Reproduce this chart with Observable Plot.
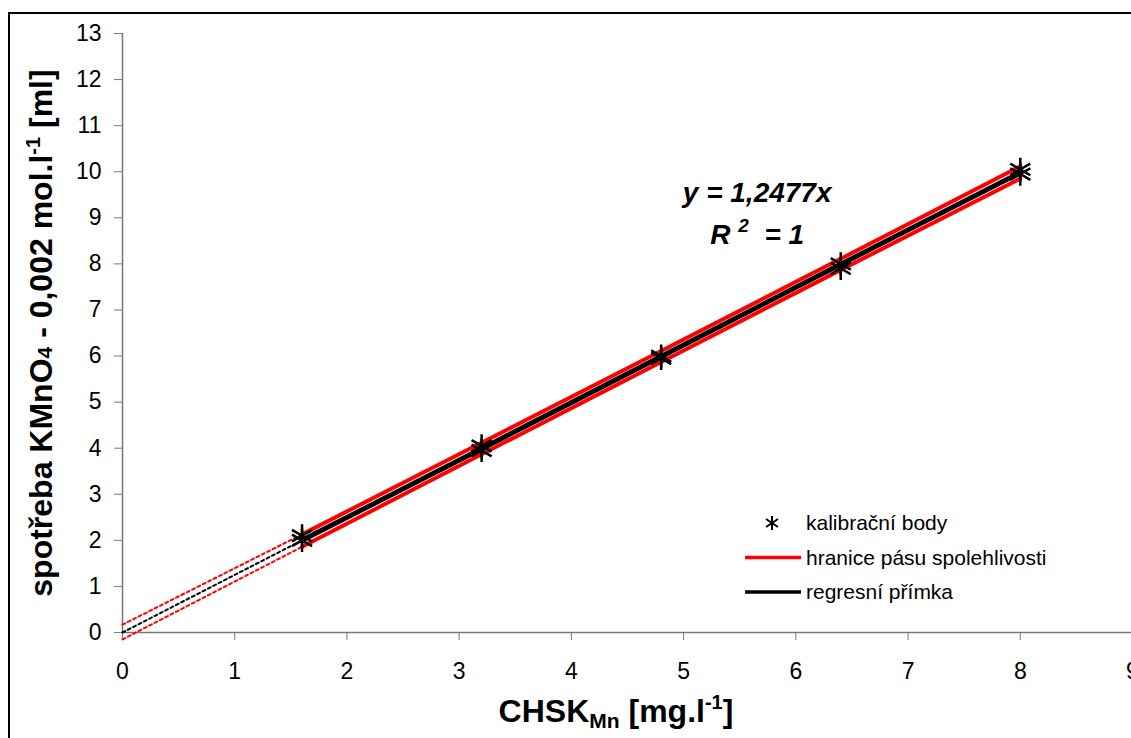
<!DOCTYPE html>
<html><head><meta charset="utf-8">
<script src="https://cdn.jsdelivr.net/npm/d3@7"></script>
<script src="https://cdn.jsdelivr.net/npm/@observablehq/plot@0.6"></script>
<style>
html,body{margin:0;padding:0;background:#fff;overflow:hidden;}
#wrap{position:relative;width:1131px;height:738px;}
#frame{position:absolute;left:8px;top:12px;width:1200px;height:800px;border-left:2px solid #000;border-top:2px solid #000;}
#chart{position:absolute;left:0;top:0;}
</style></head>
<body><div id="wrap"><div id="frame"></div><div id="chart"></div></div>
<script>
// calibration points (CHSK_Mn [mg/l], consumption [ml])
const pointX = [1.6, 1.6, 3.2, 3.2, 4.8, 4.8, 6.4, 6.4, 8.0, 8.0];
const pointY = [2.1, 2.0, 4.05, 3.95, 6.0, 5.95, 8.0, 7.9, 10.05, 9.95];
// regression line and confidence band
const lineX     = [0, 1.6, 3.2, 4.8, 6.4, 8.0];
const regY      = [0, 2.0, 3.99, 5.99, 7.99, 9.98];
const upperY    = [0.17, 2.13, 4.12, 6.11, 8.11, 10.12];
const lowerY    = [-0.15, 1.86, 3.87, 5.87, 7.87, 9.85];
const xTicks = [0,1,2,3,4,5,6,7,8,9];
const yTicks = [0,1,2,3,4,5,6,7,8,9,10,11,12,13];
const eqX = 5.66;
const eqY = [9.33, 8.42];

const pts = pointX.map((x,i)=>({x, y: pointY[i]}));
const mk = arr => lineX.map((x,i)=>({x, y: arr[i]}));
const reg = mk(regY), up = mk(upperY), lo = mk(lowerY);
const dashed = a => a.slice(0,2), solid = a => a.slice(1);

const font = "'Liberation Sans', Arial, sans-serif";
const svg = Plot.plot({
  width: 1131, height: 738,
  marginLeft: 122, marginRight: -1, marginTop: 33, marginBottom: 106,
  style: {fontFamily: font, fontSize: "23px", color: "#000", background: "transparent", overflow: "visible"},
  x: {domain: [0, 9], ticks: xTicks, label: null},
  y: {domain: [0, 13], ticks: yTicks, label: null},
  marks: [
    Plot.axisX({ticks: xTicks, tickSize: 8, tickPadding: 22, stroke: "#777", label: null, fill: "#000", fontSize: 23}),
    Plot.axisY({ticks: yTicks, tickSize: 8, tickPadding: 13, stroke: "#777", label: null, fill: "#000", fontSize: 23}),
    Plot.ruleX([0], {stroke: "#777", strokeWidth: 1.5}),
    Plot.ruleY([0], {stroke: "#777", strokeWidth: 1.5}),
    Plot.line(dashed(up), {x:"x", y:"y", stroke:"#ff0000", strokeWidth:2, strokeDasharray:"3,3"}),
    Plot.line(dashed(lo), {x:"x", y:"y", stroke:"#ff0000", strokeWidth:2, strokeDasharray:"3,3"}),
    Plot.line(dashed(reg), {x:"x", y:"y", stroke:"#000", strokeWidth:2, strokeDasharray:"3,3"}),
    Plot.line(solid(up), {x:"x", y:"y", stroke:"#ff0000", strokeWidth:4}),
    Plot.line(solid(lo), {x:"x", y:"y", stroke:"#ff0000", strokeWidth:4}),
    Plot.line(solid(reg), {x:"x", y:"y", stroke:"#000", strokeWidth:5}),
    Plot.dot(pts, {x:"x", y:"y", symbol:"asterisk", r:11, stroke:"#000", strokeWidth:2.5})
  ]
});
document.getElementById("chart").appendChild(svg);

const s = d3.select(svg);
// enlarge axis tick labels (all text present so far belongs to the axes)
s.selectAll("g").filter(function(){ return this.getAttribute("font-size"); }).attr("font-size", 23);
s.selectAll("text").attr("font-size", 23).style("font-size", "23px");

const xs = svg.scale("x"), ys = svg.scale("y");
// equation annotation
const e1 = s.append("text").attr("x", xs.apply(eqX)).attr("y", ys.apply(eqY[0]))
  .attr("text-anchor", "middle").style("font-family", font).style("font-weight", "bold")
  .style("font-style", "italic").style("font-size", "28px").attr("fill", "#000").text("y = 1,2477x");
const e2 = s.append("text").attr("x", xs.apply(eqX)).attr("y", ys.apply(eqY[1]))
  .attr("text-anchor", "middle").style("font-family", font).style("font-weight", "bold")
  .style("font-style", "italic").style("font-size", "28px").attr("fill", "#000");
e2.append("tspan").text("R ");
e2.append("tspan").text("2").style("font-size", "19px").attr("dy", "-12");
e2.append("tspan").text("  = 1").attr("dy", "12");

// y axis title
const yt = s.append("text")
  .attr("transform", "translate(52,333) rotate(-90)")
  .attr("text-anchor", "middle")
  .style("font-family", font).style("font-weight", "bold").style("font-size", "32px").attr("fill", "#000");
yt.append("tspan").text("spotřeba KMnO");
yt.append("tspan").text("4").style("font-size", "21px");
yt.append("tspan").text(" - 0,002 mol.l");
yt.append("tspan").text("-1").style("font-size", "20px").attr("dy", "-12");
yt.append("tspan").text(" [ml]").attr("dy", "12");
// x axis title
const xt = s.append("text")
  .attr("x", 616).attr("y", 722)
  .attr("text-anchor", "middle")
  .style("font-family", font).style("font-weight", "bold").style("font-size", "32px").attr("fill", "#000");
xt.append("tspan").text("CHSK");
xt.append("tspan").text("Mn").style("font-size", "21px").attr("dy", "6");
xt.append("tspan").text(" [mg.l").attr("dy", "-6");
xt.append("tspan").text("-1").style("font-size", "20px").attr("dy", "-13");
xt.append("tspan").text("]").attr("dy", "13");
// legend
const lg = s.append("g").style("font-family", font).style("font-size", "21px");
const items = [
  {label: "kalibrační body", type: "sym"},
  {label: "hranice pásu spolehlivosti", type: "line", color: "#ff0000"},
  {label: "regresní přímka", type: "line", color: "#000"}
];
items.forEach((it, i) => {
  const yy = 523 + i * 34.5;
  if (it.type === "sym") {
    const g = lg.append("g").attr("transform", `translate(772,${yy})`).attr("stroke", "#000").attr("stroke-width", 2);
    [[0,-7,0,7],[-6,-4,6,4],[-6,4,6,-4]].forEach(c => g.append("line").attr("x1",c[0]).attr("y1",c[1]).attr("x2",c[2]).attr("y2",c[3]));
  } else {
    lg.append("line").attr("x1", 745).attr("x2", 801).attr("y1", yy).attr("y2", yy)
      .attr("stroke", it.color).attr("stroke-width", 3.5);
  }
  lg.append("text").attr("x", 806).attr("y", yy).attr("dy", "0.35em").attr("text-anchor", "start")
    .attr("fill", "#000").text(it.label);
});
</script></body></html>
